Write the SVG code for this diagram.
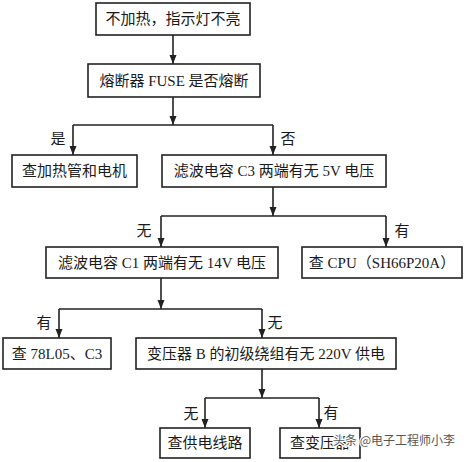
<svg xmlns="http://www.w3.org/2000/svg" width="464" height="462" viewBox="0 0 464 462">
<defs>
<marker id="arr" markerUnits="userSpaceOnUse" markerWidth="9" markerHeight="8" refX="9" refY="3.5" orient="auto">
<path d="M0,0 L9,3.5 L0,7 z" fill="#222"/>
</marker>
<style>
.box{fill:#fff;stroke:#222;stroke-width:1.6}
.t{font-family:"Liberation Serif","Noto Sans CJK SC",serif;font-size:15px;fill:#1a1a1a;text-anchor:middle;dominant-baseline:central}
.lbl{font-family:"Liberation Serif","Noto Sans CJK SC",serif;font-size:15px;fill:#1a1a1a;text-anchor:middle;dominant-baseline:central}
.ln{fill:none;stroke:#222;stroke-width:1.6}
.wm{font-family:"Noto Sans CJK SC",sans-serif;font-size:12px;fill:#555;stroke:#fff;stroke-width:2.5;paint-order:stroke;stroke-linejoin:round}
</style>
</defs>
<rect width="464" height="462" fill="#fff"/>
<g id="connectors">
<line class="ln" x1="173" y1="35" x2="173" y2="64" marker-end="url(#arr)"/>
<line class="ln" x1="173" y1="97" x2="173" y2="125" marker-end="url(#arr)"/>
<line class="ln" x1="73" y1="125" x2="273" y2="125"/>
<line class="ln" x1="73" y1="125" x2="73" y2="155" marker-end="url(#arr)"/>
<line class="ln" x1="273" y1="125" x2="273" y2="155" marker-end="url(#arr)"/>
<line class="ln" x1="273" y1="187" x2="273" y2="216" marker-end="url(#arr)"/>
<line class="ln" x1="161" y1="216" x2="386" y2="216"/>
<line class="ln" x1="161" y1="216" x2="161" y2="247" marker-end="url(#arr)"/>
<line class="ln" x1="386" y1="216" x2="386" y2="247" marker-end="url(#arr)"/>
<line class="ln" x1="161" y1="278" x2="161" y2="309" marker-end="url(#arr)"/>
<line class="ln" x1="59" y1="309" x2="262" y2="309"/>
<line class="ln" x1="59" y1="309" x2="59" y2="338" marker-end="url(#arr)"/>
<line class="ln" x1="262" y1="309" x2="262" y2="338" marker-end="url(#arr)"/>
<line class="ln" x1="262" y1="369" x2="262" y2="398" marker-end="url(#arr)"/>
<line class="ln" x1="205" y1="398" x2="319" y2="398"/>
<line class="ln" x1="205" y1="398" x2="205" y2="428" marker-end="url(#arr)"/>
<line class="ln" x1="319" y1="398" x2="319" y2="428" marker-end="url(#arr)"/>
<text class="lbl" x="58" y="139">是</text>
<text class="lbl" x="288" y="139">否</text>
<text class="lbl" x="144" y="231">无</text>
<text class="lbl" x="402" y="231">有</text>
<text class="lbl" x="44" y="323">有</text>
<text class="lbl" x="275" y="323">无</text>
<text class="lbl" x="191" y="414">无</text>
<text class="lbl" x="331" y="413">有</text>
</g>
<g id="n1"><rect class="box" x="96" y="3" width="154" height="32"/><text class="t" x="173" y="19">不加热，指示灯不亮</text></g>
<g id="n2"><rect class="box" x="88" y="64" width="172" height="33"/><text class="t" x="174" y="80.5">熔断器 FUSE 是否熔断</text></g>
<g id="n3"><rect class="box" x="12" y="155" width="125" height="32"/><text class="t" x="74.5" y="171">查加热管和电机</text></g>
<g id="n4"><rect class="box" x="162" y="155" width="224" height="32"/><text class="t" x="274" y="171">滤波电容 C3 两端有无 5V 电压</text></g>
<g id="n5"><rect class="box" x="46" y="247" width="232" height="31"/><text class="t" x="162" y="262.5">滤波电容 C1 两端有无 14V 电压</text></g>
<g id="n6"><rect class="box" x="302" y="247" width="160" height="31"/><text class="t" x="382" y="262.5">查 CPU（SH66P20A）</text></g>
<g id="n7"><rect class="box" x="3" y="338" width="108" height="31"/><text class="t" x="57" y="353.5">查 78L05、C3</text></g>
<g id="n8"><rect class="box" x="136" y="338" width="260" height="31"/><text class="t" x="266" y="353.5">变压器 B 的初级绕组有无 220V 供电</text></g>
<g id="n9"><rect class="box" x="160" y="428" width="90" height="30"/><text class="t" x="205" y="443">查供电线路</text></g>
<g id="n10"><rect class="box" x="280" y="428" width="80" height="30"/><text class="t" x="320" y="443">查变压器</text></g>
<text class="wm" x="333" y="445">头条 @电子工程师小李</text>
</svg>
